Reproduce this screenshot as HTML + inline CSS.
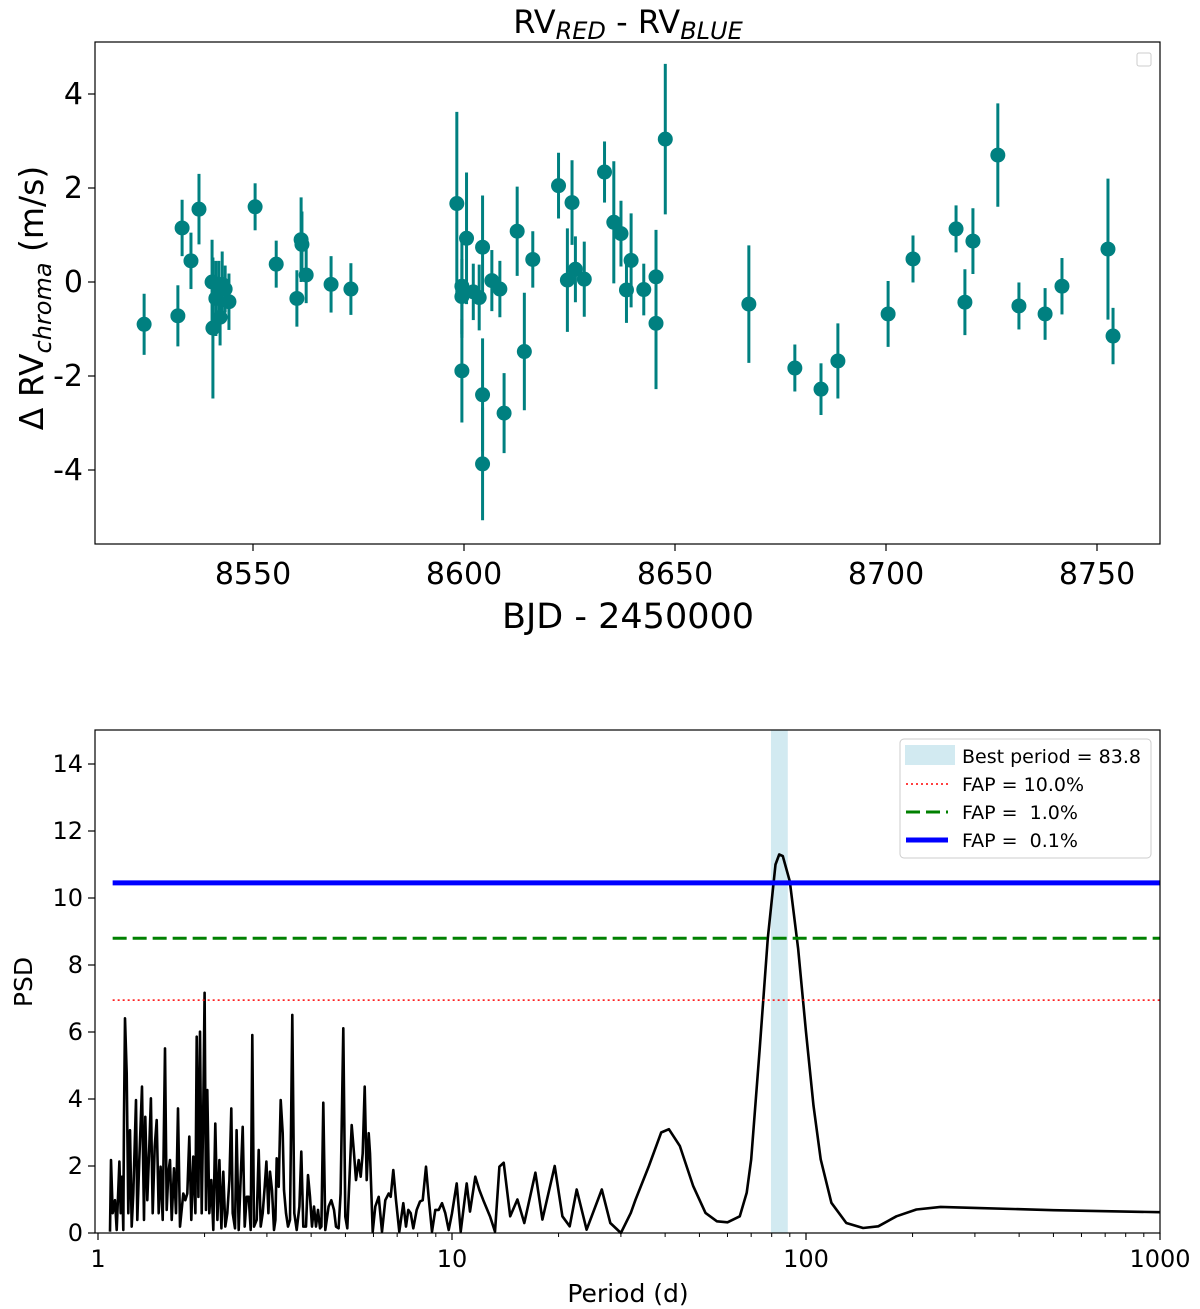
<!DOCTYPE html>
<html><head><meta charset="utf-8">
<style>
html,body{margin:0;padding:0;background:#fff;}
svg{display:block;font-family:"DejaVu Sans","Liberation Sans",sans-serif;}
</style></head>
<body>
<svg id="fig" width="1200" height="1309" viewBox="0 0 1200 1309" xmlns="http://www.w3.org/2000/svg">
<g id="top"></g>
<g id="bot"></g>
</svg>
<script>
// ---- Top chart data ----
const bjd = [8524.2,8532.2,8533.2,8535.3,8537.2,8540.3,8540.5,8541.2,8541.9,8542.2,8542.7,8543.4,8544.3,8550.5,8555.5,8560.4,8561.4,8561.6,8562.6,8568.5,8573.2,
8598.3,8599.5,8599.5,8599.5,8600.6,8602.2,8603.6,8604.4,8604.4,8604.4,8606.6,8608.5,8609.5,8612.6,8614.3,8616.3,8622.4,8624.5,8625.6,8626.4,8628.5,8633.3,8635.5,8637.2,8639.6,8638.5,8642.6,8645.5,8645.5,8647.7,
8667.5,8678.4,8684.6,8688.6,8700.5,8706.4,8716.6,8718.7,8720.6,8726.5,8731.5,8737.7,8741.7,8752.6,8753.8];
const drv = [-0.9,-0.72,1.15,0.45,1.55,0.0,-0.98,-0.35,-0.15,-0.75,-0.05,-0.15,-0.42,1.6,0.38,-0.35,0.9,0.8,0.15,-0.05,-0.15,
1.67,-0.09,-0.31,-1.89,0.93,-0.21,-0.33,0.74,-2.4,-3.87,0.03,-0.15,-2.79,1.08,-1.48,0.48,2.05,0.04,1.69,0.27,0.06,2.34,1.27,1.03,0.46,-0.17,-0.16,0.11,-0.88,3.04,
-0.47,-1.83,-2.28,-1.68,-0.68,0.49,1.13,-0.43,0.87,2.7,-0.51,-0.68,-0.09,0.7,-1.15];
const drvErr = [0.65,0.65,0.6,0.6,0.75,0.9,1.5,0.8,0.6,0.6,0.7,0.5,0.6,0.5,0.5,0.6,0.9,0.7,0.6,0.6,0.55,
1.95,1.1,0.8,1.1,1.4,0.6,0.7,1.1,1.2,1.2,0.65,0.6,0.85,0.95,1.25,0.6,0.7,1.1,0.9,0.7,0.8,0.65,1.3,0.7,1.0,0.7,0.55,1.0,1.4,1.6,
1.25,0.5,0.55,0.8,0.7,0.5,0.5,0.7,0.7,1.1,0.5,0.55,0.6,1.5,0.6];
const topXTicks = [8550,8600,8650,8700,8750];
const topYTicks = [-4,-2,0,2,4];

// ---- Periodogram data ----
const period = [1.081,1.088,1.100,1.117,1.129,1.149,1.159,1.169,1.179,1.184,1.192,1.205,1.218,1.231,1.245,1.258,1.280,1.291,1.308,1.331,1.349,1.360,1.378,1.396,1.411,1.427,1.446,1.465,1.484,1.503,1.523,1.546,1.563,1.580,1.597,1.615,1.639,1.661,1.683,1.705,1.742,1.765,1.788,1.811,1.835,1.859,1.884,1.900,1.921,1.942,1.963,1.984,2.001,2.019,2.036,2.063,2.090,2.117,2.145,2.174,2.202,2.231,2.259,2.289,2.319,2.350,2.380,2.401,2.438,2.464,2.497,2.529,2.563,2.596,2.630,2.665,2.700,2.729,2.759,2.807,2.844,2.881,2.919,2.957,2.990,3.029,3.062,3.102,3.142,3.170,3.197,3.239,3.281,3.324,3.353,3.397,3.441,3.487,3.540,3.586,3.641,3.705,3.753,3.802,3.869,3.919,3.971,4.023,4.076,4.129,4.183,4.238,4.275,4.330,4.387,4.481,4.560,4.641,4.701,4.783,4.846,4.931,4.996,5.061,5.129,5.207,5.287,5.356,5.450,5.521,5.594,5.667,5.741,5.817,5.868,5.969,6.073,6.206,6.342,6.481,6.623,6.710,6.828,6.947,7.100,7.287,7.413,7.527,7.642,7.777,7.947,8.121,8.264,8.442,8.590,8.779,8.972,9.169,9.371,9.576,9.786,10.0,10.31,10.58,10.77,11.00,11.24,11.64,11.95,12.26,12.81,13.23,13.61,
14.0,14.6,15.3,16,17.2,18,19.5,20.5,21.5,22.5,24,26.5,28,30,32,33,36,39,41,44,48,52,56,60,65,68,70,74,78,82,84,86,90,95,100,105,110,118,130,145,160,180,205,240,300,500,1000];
const psd = [0.04,2.18,0.59,0.98,0.09,2.13,0.59,1.68,0.09,3.47,6.41,4.77,0.59,3.07,0.19,1.18,3.97,0.39,2.18,4.37,0.39,3.47,0.98,2.58,4.02,0.59,2.58,3.37,0.59,1.98,0.39,5.51,0.69,1.78,2.18,0.39,1.93,0.59,3.72,0.19,1.18,0.98,1.18,2.88,0.39,2.28,0.59,5.86,1.08,6.01,0.59,3.77,7.17,0.69,4.27,0.59,1.58,0.09,3.27,0.39,2.18,0.14,1.83,0.19,0.59,1.58,3.72,0.59,0.14,3.07,0.09,1.58,3.17,0.19,1.08,1.08,0.09,5.91,0.19,0.39,2.48,0.19,0.59,1.38,2.13,0.59,1.83,1.28,0.09,0.39,2.23,1.38,3.97,2.98,1.28,0.59,0.19,0.39,6.51,0.59,0.09,0.79,2.43,0.19,0.19,1.73,1.08,0.19,0.79,0.19,0.69,0.14,0.19,3.89,0.09,0.79,0.98,0.69,0.19,0.14,1.18,6.11,0.49,0.14,1.58,3.22,2.38,1.58,2.18,1.68,2.38,4.37,1.58,2.98,2.38,0.04,0.79,1.08,0.04,0.98,1.18,1.08,1.88,0.98,0.04,0.89,0.19,0.69,0.59,0.14,0.69,0.94,0.98,1.98,1.08,0.04,0.69,0.69,0.89,0.59,0.09,0.59,1.48,0.04,0.69,1.48,0.64,1.68,1.28,0.98,0.49,0.04,1.98,
2.1,0.5,1.0,0.3,1.8,0.4,2.0,0.5,0.2,1.3,0.1,1.3,0.3,0.0,0.6,1.0,2.0,3.0,3.1,2.6,1.4,0.6,0.35,0.32,0.5,1.2,2.2,5.5,8.8,11.0,11.3,11.25,10.5,8.5,6.0,3.8,2.2,0.9,0.3,0.15,0.2,0.5,0.7,0.78,0.75,0.68,0.62];
const bestPeriod = [83.8];
const fapLevels = [6.95, 8.8, 10.45];
const fapLabels = ["FAP = 10.0%","FAP =\u00a0\u00a01.0%","FAP =\u00a0\u00a00.1%"];
const botXTicks = [1,10,100,1000];
const botYTicks = [0,2,4,6,8,10,12,14];

const NS="http://www.w3.org/2000/svg";
function mk(parent,tag,attrs,text){const e=document.createElementNS(NS,tag);for(const k in attrs)e.setAttribute(k,attrs[k]);if(text!==undefined)e.textContent=text;parent.appendChild(e);return e;}

// ---- Top chart ----
const T=document.getElementById('top');
const tL=95,tR=1160,tT=42,tB=544;
const tx=v=>253+(v-8550)*4.22;
const ty=v=>282-v*47;
let e;
for(let i=0;i<bjd.length;i++){
  e=mk(T,'line',{x1:tx(bjd[i]),x2:tx(bjd[i]),y1:ty(drv[i]+drvErr[i]),y2:ty(drv[i]-drvErr[i]),stroke:'#008080','stroke-width':3});
  
  
}
for(let i=0;i<bjd.length;i++){
  e=mk(T,'circle',{cx:tx(bjd[i]),cy:ty(drv[i]),r:7.5,fill:'#008080'});
  
  
}
e=mk(T,'rect',{x:tL,y:tT,width:tR-tL,height:tB-tT,fill:'none',stroke:'#000','stroke-width':1.2});

topXTicks.forEach(v=>{const x=tx(v);
  mk(T,'line',{x1:x,x2:x,y1:tB,y2:tB+7,stroke:'#000','stroke-width':1.2});
  e=mk(T,'text',{x:x,y:tB+40,'font-size':30,'text-anchor':'middle'},String(v));
  });
topYTicks.forEach(v=>{const y=ty(v);
  mk(T,'line',{x1:tL-7,x2:tL,y1:y,y2:y,stroke:'#000','stroke-width':1.2});
  e=mk(T,'text',{x:tL-12,y:y+10,'font-size':30,'text-anchor':'end'},String(v));
  });
e=mk(T,'text',{x:628,y:628,'font-size':35,'text-anchor':'middle'},'BJD - 2450000');

e=mk(T,'text',{x:0,y:0,'font-size':33,'text-anchor':'middle',transform:'translate(43,298) rotate(-90)'});

e.innerHTML='Δ RV<tspan font-size="24" font-style="italic" dy="8">chroma</tspan><tspan dy="-8"> (m/s)</tspan>';
e=mk(T,'text',{x:628,y:33,'font-size':32,'text-anchor':'middle'});

e.innerHTML='RV<tspan font-size="24" font-style="italic" dy="6">RED</tspan><tspan dy="-6"> - RV</tspan><tspan font-size="24" font-style="italic" dy="6">BLUE</tspan>';
e=mk(T,'rect',{x:1137,y:53,width:14,height:13,rx:2,fill:'#fff',stroke:'#ccc'});


// ---- Periodogram ----
const B=document.getElementById('bot');
const bL=95,bR=1160,bT=730,bB=1233;
const bx=p=>98+Math.log10(p)*354;
const by=v=>1233-v*33.5;
e=mk(B,'rect',{x:bx(bestPeriod[0]*0.95),y:bT,width:bx(bestPeriod[0]*1.06)-bx(bestPeriod[0]*0.95),height:bB-bT,fill:'#add8e6',opacity:0.55});

let d='';for(let i=0;i<period.length;i++){d+=(i?'L':'M')+bx(period[i]).toFixed(1)+','+by(psd[i]).toFixed(1);}
e=mk(B,'path',{d:d,fill:'none',stroke:'#000','stroke-width':2.6,'stroke-linejoin':'round'});

const fapStyles=[{stroke:'red','stroke-width':1.5,'stroke-dasharray':'2,3'},{stroke:'green','stroke-width':3,'stroke-dasharray':'14,6'},{stroke:'blue','stroke-width':5}];
fapLevels.forEach((v,i)=>{const a=Object.assign({x1:bx(1.1),x2:bR,y1:by(v),y2:by(v)},fapStyles[i]);
  e=mk(B,'line',a);});
e=mk(B,'rect',{x:bL,y:bT,width:bR-bL,height:bB-bT,fill:'none',stroke:'#000','stroke-width':1.2});

botXTicks.forEach(v=>{const x=bx(v);
  mk(B,'line',{x1:x,x2:x,y1:bB,y2:bB+7,stroke:'#000','stroke-width':1.2});
  e=mk(B,'text',{x:x,y:bB+34,'font-size':24,'text-anchor':'middle'},String(v));
  });
for(let dec=0;dec<3;dec++)for(let m=2;m<10;m++){const x=bx(m*Math.pow(10,dec));
  mk(B,'line',{x1:x,x2:x,y1:bB,y2:bB+4,stroke:'#000','stroke-width':1});}
botYTicks.forEach(v=>{const y=by(v);
  mk(B,'line',{x1:bL-7,x2:bL,y1:y,y2:y,stroke:'#000','stroke-width':1.2});
  e=mk(B,'text',{x:bL-12,y:y+8,'font-size':24,'text-anchor':'end'},String(v));
  });
e=mk(B,'text',{x:628,y:1302,'font-size':25,'text-anchor':'middle'},'Period (d)');

e=mk(B,'text',{x:0,y:0,'font-size':25,'text-anchor':'middle',transform:'translate(32,982) rotate(-90)'},'PSD');

// legend
const lg=mk(B,'g',{});

mk(lg,'rect',{x:900,y:739,width:251,height:119,rx:4,fill:'#fff','fill-opacity':0.85,stroke:'#ccc'});
e=mk(lg,'rect',{x:905,y:745,width:50,height:20,fill:'#add8e6',opacity:0.55});
e=mk(lg,'text',{x:962,y:763,'font-size':19},'Best period = '+bestPeriod[0]);

fapLabels.forEach((t,i)=>{const y=784+i*28;
  mk(lg,'line',Object.assign({x1:906,x2:948,y1:y,y2:y},fapStyles[i]));
  e=mk(lg,'text',{x:962,y:y+7,'font-size':19},t);
  });
</script>
</body></html>
